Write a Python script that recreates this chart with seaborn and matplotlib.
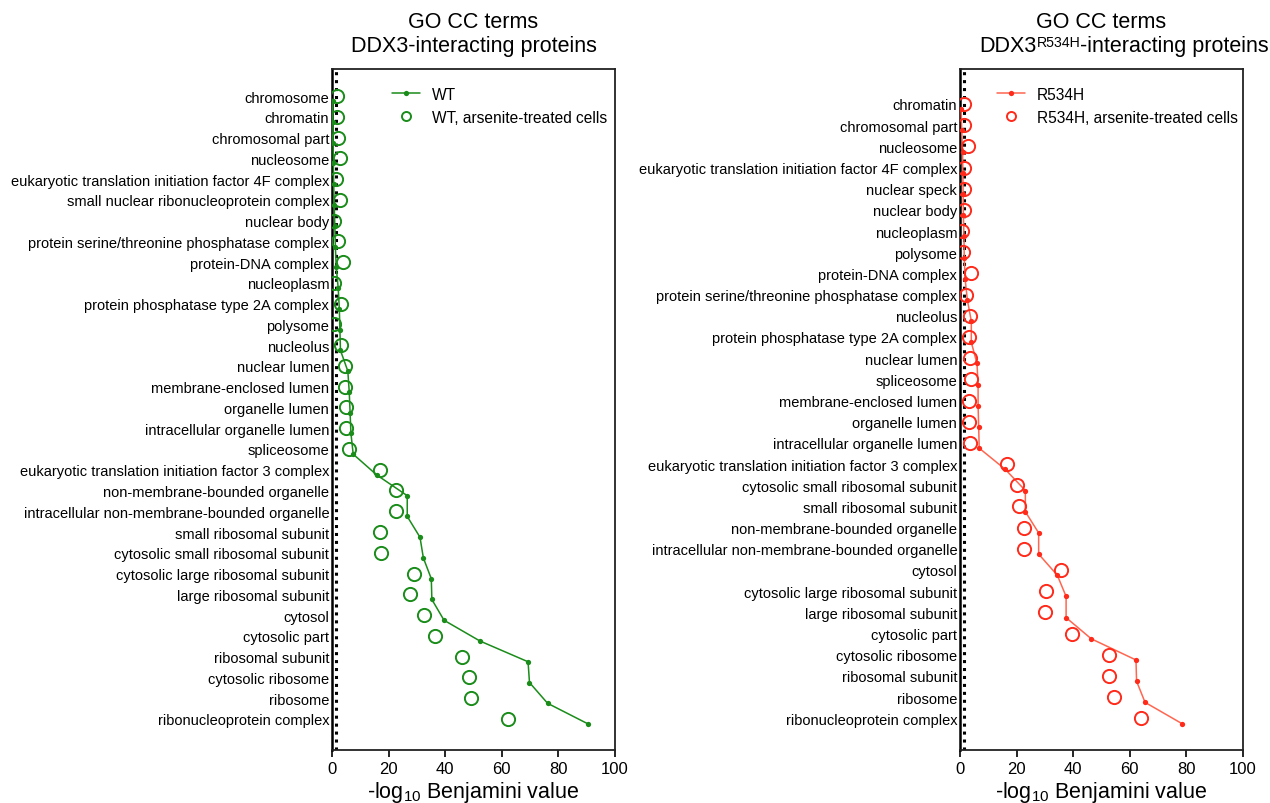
import matplotlib.pyplot as plt
import numpy as np
import pandas as pd
import seaborn as sns

# GO cellular-component terms, top to bottom, as they appear in each panel
wt_terms = [
    "chromosome", "chromatin", "chromosomal part", "nucleosome",
    "eukaryotic translation initiation factor 4F complex",
    "small nuclear ribonucleoprotein complex", "nuclear body",
    "protein serine/threonine phosphatase complex", "protein-DNA complex",
    "nucleoplasm", "protein phosphatase type 2A complex", "polysome", "nucleolus",
    "nuclear lumen", "membrane-enclosed lumen", "organelle lumen",
    "intracellular organelle lumen", "spliceosome",
    "eukaryotic translation initiation factor 3 complex",
    "non-membrane-bounded organelle", "intracellular non-membrane-bounded organelle",
    "small ribosomal subunit", "cytosolic small ribosomal subunit",
    "cytosolic large ribosomal subunit", "large ribosomal subunit", "cytosol",
    "cytosolic part", "ribosomal subunit", "cytosolic ribosome", "ribosome",
    "ribonucleoprotein complex",
]
wt_values = [0.2, 0.3, 0.4, 0.5, 0.6, 0.8, 1.0, 1.2, 1.5, 2.2, 2.6, 2.8, 3.0, 5.6, 6.1, 6.4,
             6.7, 7.5, 15.8, 26.6, 26.6, 31.1, 32.3, 35.1, 35.3, 39.6, 52.3, 69.3, 69.8,
             76.2, 90.6]
wt_arsenite_values = [1.6, 1.6, 2.3, 3.0, 1.3, 2.7, 0.7, 2.0, 4.0, 0.6, 3.3, 0.6, 3.3, 4.5,
                      4.6, 4.8, 4.9, 5.9, 16.8, 22.8, 22.7, 17.0, 17.2, 29.0, 27.6, 32.5,
                      36.3, 46.1, 48.3, 49.0, 62.3]

mut_terms = [
    "chromatin", "chromosomal part", "nucleosome",
    "eukaryotic translation initiation factor 4F complex", "nuclear speck",
    "nuclear body", "nucleoplasm", "polysome", "protein-DNA complex",
    "protein serine/threonine phosphatase complex", "nucleolus",
    "protein phosphatase type 2A complex", "nuclear lumen", "spliceosome",
    "membrane-enclosed lumen", "organelle lumen", "intracellular organelle lumen",
    "eukaryotic translation initiation factor 3 complex",
    "cytosolic small ribosomal subunit", "small ribosomal subunit",
    "non-membrane-bounded organelle", "intracellular non-membrane-bounded organelle",
    "cytosol", "cytosolic large ribosomal subunit", "large ribosomal subunit",
    "cytosolic part", "cytosolic ribosome", "ribosomal subunit", "ribosome",
    "ribonucleoprotein complex",
]
mut_values = [0.4, 0.6, 0.9, 1.0, 1.1, 1.2, 1.4, 1.5, 1.8, 2.6, 4.0, 4.0, 6.0, 6.4, 6.4,
              6.6, 6.8, 16.0, 23.1, 23.1, 27.8, 27.8, 34.4, 37.5, 37.5, 46.4, 62.2, 62.4,
              65.4, 78.4]
mut_arsenite_values = [1.5, 1.5, 2.9, 1.4, 1.4, 1.3, 0.6, 1.1, 3.8, 2.0, 3.4, 3.1, 3.4, 3.9,
                       3.3, 3.2, 3.5, 16.5, 20.3, 20.8, 22.7, 22.7, 35.7, 30.3, 30.2, 39.5,
                       52.7, 52.8, 54.5, 64.1]

# -log10(0.05)
significance_cutoff = 1.3

x_ticks = [0, 20, 40, 60, 80, 100]

TITLE_SIZE = 15.5
AXES_HEIGHT_PX = 681


def add_title(ax, subtitle_parts):
    ax.text(0.5, 1.0 + 42 / AXES_HEIGHT_PX, "GO CC terms", transform=ax.transAxes,
            ha="center", va="baseline", fontsize=TITLE_SIZE)
    y = 1.0 + 18 / AXES_HEIGHT_PX

    if len(subtitle_parts) == 1:
        ax.text(0.5, y, subtitle_parts[0], transform=ax.transAxes, ha="center",
                va="baseline", fontsize=TITLE_SIZE)
        return

    # "DDX3" + superscript + "-interacting proteins", chained left to right
    head, sup, tail = subtitle_parts
    t_head = ax.text(0.067, y, head, transform=ax.transAxes, ha="left", va="baseline",
                     fontsize=TITLE_SIZE)
    t_sup = ax.annotate(sup, xy=(1, 0), xycoords=t_head, xytext=(0.3, 7.5),
                        textcoords="offset points", ha="left", va="baseline",
                        fontsize=10.2)
    ax.annotate(tail, xy=(1, 0), xycoords=(t_sup, t_head), ha="left", va="bottom",
                fontsize=TITLE_SIZE)


def plot_panel(ax, terms, values, treated_values, line_color, circle_color, label,
               treated_label, subtitle_parts, ylim, legend_x):
    pos = np.arange(len(terms))
    df = pd.DataFrame({"term": terms, "pos": pos, "value": values,
                       "treated": treated_values})

    ax.axvline(significance_cutoff, color="black", linestyle=(0, (1, 1.6)), linewidth=2.2,
               zorder=1)

    sns.lineplot(data=df, x="value", y=df["pos"] + 0.25, ax=ax, estimator=None, sort=False,
                 color=line_color, linewidth=1.1, marker="o", markersize=3.8,
                 markeredgewidth=0, markerfacecolor=circle_color, label=label, zorder=3)
    sns.lineplot(data=df, x="treated", y="pos", ax=ax, estimator=None, sort=False,
                 linestyle="none", marker="o", markersize=9.5, markerfacecolor="none",
                 markeredgecolor=circle_color, markeredgewidth=1.4, label=treated_label,
                 zorder=4)

    ax.set_xlim(0, 100)
    ax.set_xticks(x_ticks)
    ax.set_ylim(*ylim)
    ax.set_yticks(pos)
    ax.set_yticklabels(terms, fontsize=10.5)
    ax.tick_params(axis="y", length=0, pad=2)
    ax.tick_params(axis="x", length=5, width=1.2, labelsize=12, pad=3, direction="out")
    ax.set_xlabel(r"-log$_{10}$ Benjamini value", fontsize=15.5, labelpad=2)
    ax.set_ylabel("")

    add_title(ax, subtitle_parts)

    for name, spine in ax.spines.items():
        spine.set_visible(True)
        spine.set_color("#222222")
        spine.set_linewidth(1.3)
    ax.spines["left"].set_color("black")
    ax.spines["left"].set_linewidth(1.8)

    legend = ax.legend(loc="upper left", bbox_to_anchor=(legend_x, 0.983), frameon=False,
                       fontsize=11.2, handlelength=1.8, handletextpad=0.8,
                       labelspacing=0.5, borderaxespad=0)
    legend.legend_handles[1].set_markersize(6.5)


def main():
    sns.set_style("ticks")
    plt.rcParams["font.family"] = ["Liberation Sans", "DejaVu Sans"]
    plt.rcParams["mathtext.fontset"] = "custom"
    plt.rcParams["mathtext.rm"] = "Liberation Sans"
    plt.rcParams["mathtext.it"] = "Liberation Sans:italic"
    plt.rcParams["mathtext.bf"] = "Liberation Sans:bold"
    for key in ["text.color", "axes.labelcolor", "xtick.color", "ytick.color"]:
        plt.rcParams[key] = "black"

    figure = plt.figure(figsize=(12.7, 8.04), dpi=100)
    ax_wt = figure.add_axes([0.2614, 0.0659, 0.2228, 0.847])
    ax_mut = figure.add_axes([0.7559, 0.0659, 0.2228, 0.847])

    plot_panel(ax_wt, wt_terms, wt_values, wt_arsenite_values, "#1a8c1a", "#1a8c1a",
               "WT", "WT, arsenite-treated cells",
               ["DDX3-interacting proteins"],
               (len(wt_terms) - 1 + 1.5, -1.3), 0.19)
    plot_panel(ax_mut, mut_terms, mut_values, mut_arsenite_values, "#ff6650", "#ff2a1a",
               "R534H", "R534H, arsenite-treated cells",
               ["DDX3", "R534H", "-interacting proteins"],
               (len(mut_terms) - 1 + 1.5, -1.65), 0.108)

    figure.savefig("out.png", dpi=100)


if __name__ == "__main__":
    main()
